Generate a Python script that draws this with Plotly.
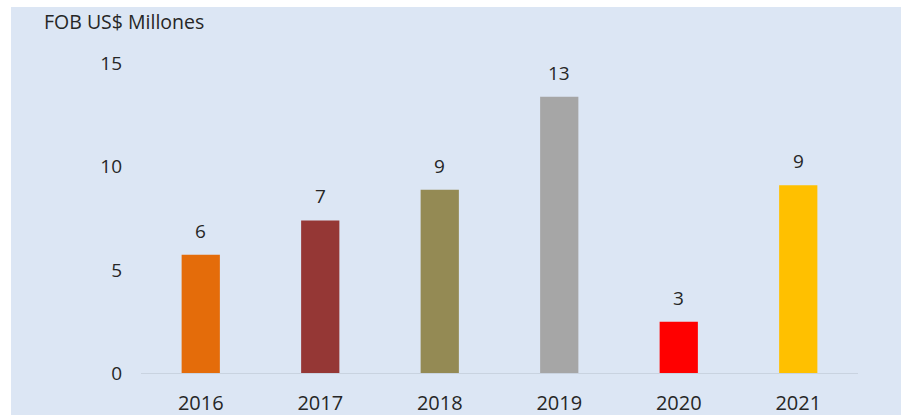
import plotly.graph_objects as go

years = ["2016", "2017", "2018", "2019", "2020", "2021"]
values = [5.73, 7.4, 8.88, 13.4, 2.49, 9.1]
labels = ["6", "7", "9", "13", "3", "9"]
colors = ["#E46C0A", "#953735", "#948A54", "#A6A6A6", "#FF0000", "#FFC000"]
y_ticks = [0, 5, 10, 15]

txt = "#262626"
font = "Open Sans"

fig = go.Figure(go.Bar(
    x=years, y=values, marker_color=colors, marker_line_width=0,
))

# category axis: annotations use the category index
annots = [dict(x=i, y=v, text=lb, xref="x", yref="y", showarrow=False,
               yanchor="bottom", yshift=9,
               font=dict(family=font, size=19, color=txt))
          for i, (v, lb) in enumerate(zip(values, labels))]
annots.append(dict(text="FOB US$ Millones", xref="paper", yref="paper",
                   x=-99/717, y=1+21/330, xanchor="left", yanchor="middle",
                   showarrow=False, font=dict(family=font, size=19.5, color=txt)))

fig.update_layout(
    width=901, height=415,
    margin=dict(l=141, r=43, t=43, b=42, autoexpand=False),
    paper_bgcolor="#DCE6F4", plot_bgcolor="#DCE6F4",
    bargap=0.68, showlegend=False,
    font=dict(family=font, color=txt),
    shapes=[
        dict(type="rect", xref="paper", yref="paper", x0=-141/717, x1=1.1, y0=1+36/330, y1=1+60/330,
             fillcolor="white", line_width=0, layer="above"),
        dict(type="rect", xref="paper", yref="paper", x0=-141/717, x1=-130/717, y0=-0.2, y1=1.2,
             fillcolor="white", line_width=0, layer="above"),
    ],
    annotations=annots,
)
fig.update_xaxes(type="category", range=[-0.5, len(years) - 0.5],
                 showgrid=False, showline=True, linecolor="#C9D3E0", linewidth=1,
                 tickfont=dict(family=font, size=20, color=txt), ticks="",
                 ticklabelstandoff=12, automargin=False)
fig.update_yaxes(range=[0, 16], tickvals=y_ticks, showgrid=False, zeroline=False,
                 showline=False, tickfont=dict(family=font, size=19, color=txt),
                 ticks="", ticklabelstandoff=18, automargin=False)

fig.write_html("out.html")
